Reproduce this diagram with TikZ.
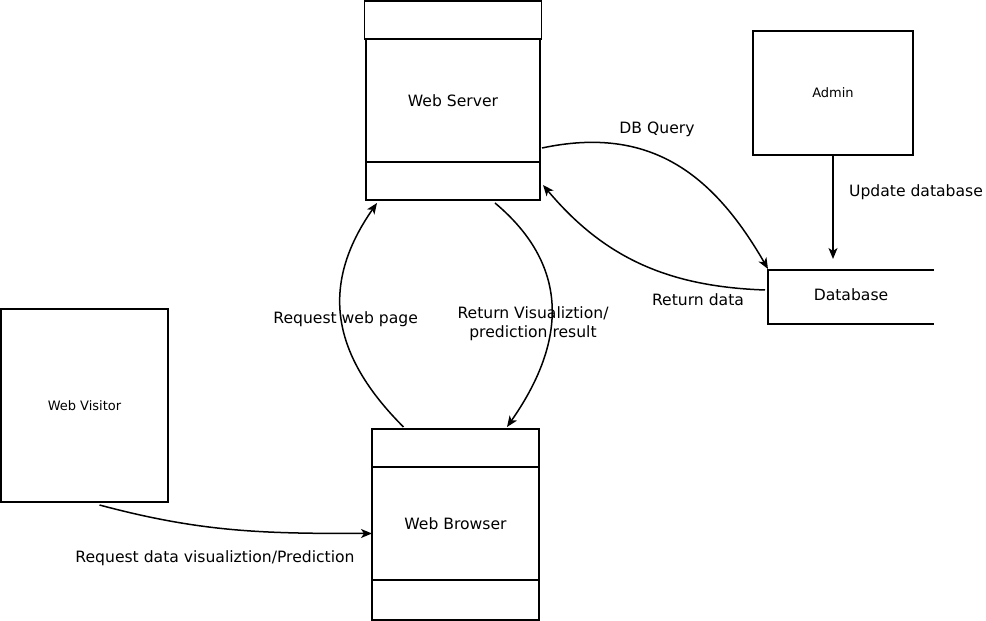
\documentclass[tikz,border=0pt]{standalone}
\usepackage{fontspec}
\setmainfont{DejaVu Sans}
\usetikzlibrary{positioning}
\usetikzlibrary{calc}
\usetikzlibrary{arrows.meta}

\begin{document}
\begin{tikzpicture}[
    x=1pt, y=1pt,                          % one unit per pixel
    font=\fontsize{15.6}{19}\selectfont,   % global text size
    ]
% -------------------------------------------------
\tikzset{
  base/.style={draw, line width=1.5pt, inner sep=0pt, outer sep=0pt, align=center},
  proc/.style={base, rectangle},
  small/.style={font=\fontsize{13}{15}\selectfont},
  lbl/.style={inner sep=1pt, align=center},
  line/.style={draw, line width=1.5pt, -{Stealth[length=11pt,width=9pt,inset=3pt]}}
}
\useasboundingbox (0,0) rectangle (986,621);

\node [proc, minimum width=174pt, minimum height=123pt] (server) at (453,520.5) {Web Server};
\node [proc, minimum width=177pt, minimum height=38pt, above=0pt of server] (servertop) {};
\node [proc, minimum width=174pt, minimum height=38pt, below=0pt of server] (serverbot) {};

\node [proc, minimum width=167pt, minimum height=113pt] (browser) at (455.5,97.5) {Web Browser};
\node [proc, minimum width=167pt, minimum height=38pt, above=0pt of browser] (browsertop) {};
\node [proc, minimum width=167pt, minimum height=40pt, below=0pt of browser] (browserbot) {};

\node [proc, small, minimum width=160pt, minimum height=124pt] (admin) at (833,528) {Admin};
\node [proc, small, minimum width=167pt, minimum height=193pt] (visitor) at (84.5,215.5) {Web Visitor};

\node [minimum width=166pt, minimum height=54pt, inner sep=0pt, outer sep=0pt] (db) at (851,326) {Database};
\draw [line width=1.5pt] ([yshift=-2pt]db.north east) -- ([yshift=-2pt]db.north west) -- ([yshift=-2pt]db.south west) -- ([yshift=-2pt]db.south east);

\path [line, shorten >=9pt] (admin.south) -- (admin.south |- db.north);
\path [line] ([xshift=15pt,yshift=-3pt]visitor.south) to[out=-15, in=180] ([yshift=-10pt]browser.west);
\path [line] ([xshift=-52pt,yshift=2pt]browsertop.north) to[out=135, in=-125, looseness=1.15]
    node [lbl, xshift=4pt] (reqweb) {Request web page} ([xshift=-76pt,yshift=-3pt]serverbot.south);
\path [line] ([xshift=42pt,yshift=-3pt]serverbot.south) to[out=-40, in=55, looseness=1.15] ([xshift=51.5pt,yshift=2pt]browsertop.north);
\path [line] ([xshift=2pt,yshift=14pt]serverbot.north east) to[out=12, in=120, looseness=1.1] ([yshift=-1pt]db.north west);
\path [line] ([xshift=-3pt,yshift=5pt]db.west) to[out=178, in=-50] ([xshift=3pt,yshift=-4pt]serverbot.east);

\node [lbl] (retlbl) at (533,297) {Return Visualiztion/\\prediction result};
\node [lbl] (qlbl) at (657,492) {DB Query};
\node [lbl] (rdlbl) at (698,321) {Return data};
\node [lbl] (uplbl) at (916,429) {Update database};
\node [lbl] (reqlbl) at (215,63) {Request data visualiztion/Prediction};

\end{tikzpicture}
\end{document}
